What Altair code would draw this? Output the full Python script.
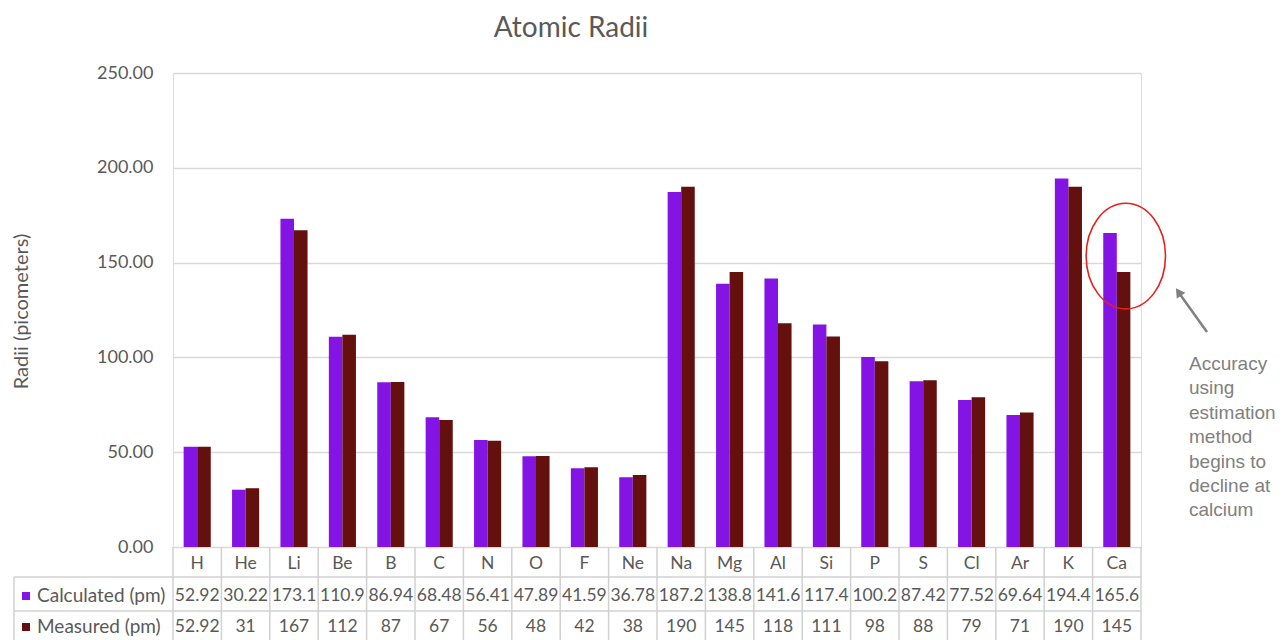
import altair as alt
import pandas as pd

# ---- data ----
elements = ["H", "He", "Li", "Be", "B", "C", "N", "O", "F", "Ne",
            "Na", "Mg", "Al", "Si", "P", "S", "Cl", "Ar", "K", "Ca"]
calculated = [52.92, 30.22, 173.1, 110.9, 86.94, 68.48, 56.41, 47.89, 41.59, 36.78,
              187.2, 138.8, 141.6, 117.4, 100.2, 87.42, 77.52, 69.64, 194.4, 165.6]
measured = [52.92, 31, 167, 112, 87, 67, 56, 48, 42, 38,
            190, 145, 118, 111, 98, 88, 79, 71, 190, 145]
series = ["Calculated (pm)", "Measured (pm)"]
colors = ["#8414E4", "#63100F"]
y_ticks = [0, 50, 100, 150, 200, 250]
annotation_lines = ["Accuracy", "using", "estimation", "method",
                    "begins to", "decline at", "calcium"]
highlight_element = "Ca"

# ---- tables built from the arrays ----
rows = []
for s, vals in zip(series, [calculated, measured]):
    for e, v in zip(elements, vals):
        rows.append({"element": e, "series": s, "value": v, "label": f"{v:g}"})
df = pd.DataFrame(rows)
df_el = pd.DataFrame({"element": elements})
hi = df[df.element == highlight_element]
df_hi = pd.DataFrame({"element": [highlight_element], "value": [hi.value.mean()]})
one = pd.DataFrame({"k": [0]})

# ---- layout (pixels) ----
W, H = 968, 474
STEP = W / len(elements)
GRAY = "#595959"
LINE = "#d0d0d0"
FONT = "Lato"
TFS = 17.5
ROW_HEADER, ROW_CALC, ROW_MEAS = 491, 523, 554
LINE_1, LINE_2, TABLE_BOTTOM = 504, 538, 600
LEFT_EDGE = -159

xenc = alt.X("element:N", sort=elements, axis=None,
             scale=alt.Scale(paddingInner=0.44, paddingOuter=0.22))

bars = alt.Chart(df).mark_bar().encode(
    x=xenc,
    xOffset=alt.XOffset("series:N", sort=series,
                        scale=alt.Scale(paddingInner=0, paddingOuter=0)),
    y=alt.Y("value:Q", scale=alt.Scale(domain=[0, 250], nice=False),
            axis=alt.Axis(values=y_ticks, format=".2f", labelFontSize=18,
                          labelColor=GRAY, labelFont=FONT, labelPadding=20,
                          ticks=False, tickSize=0, domain=False,
                          gridColor="#d9d9d9", gridWidth=1.3,
                          title="Radii (picometers)", titleFontSize=20,
                          titleFont=FONT, titleColor=GRAY, titleFontWeight="normal",
                          titleX=-152, titleY=H / 2 + 1, titleBaseline="middle",
                          titleAlign="center")),
    color=alt.Color("series:N", scale=alt.Scale(domain=series, range=colors),
                    legend=None),
)

header = alt.Chart(df_el).mark_text(fontSize=TFS, font=FONT, color=GRAY).encode(
    x=xenc, y=alt.value(ROW_HEADER), text="element:N")

calc_text = alt.Chart(df).transform_filter(
    alt.datum.series == series[0]).mark_text(fontSize=TFS, font=FONT, color=GRAY).encode(
    x=xenc, y=alt.value(ROW_CALC), text="label:N")

meas_text = alt.Chart(df).transform_filter(
    alt.datum.series == series[1]).mark_text(fontSize=TFS, font=FONT, color=GRAY).encode(
    x=xenc, y=alt.value(ROW_MEAS), text="label:N")

vlines = alt.Chart(df_el).mark_rule(color=LINE, strokeWidth=1.5, xOffset=-STEP / 2).encode(
    x=xenc, y=alt.value(H), y2=alt.value(TABLE_BOTTOM))
vline_right = alt.Chart(one).mark_rule(color=LINE, strokeWidth=1.5).encode(
    x=alt.value(W), y=alt.value(H), y2=alt.value(TABLE_BOTTOM))
vline_left = alt.Chart(one).mark_rule(color=LINE, strokeWidth=1.5).encode(
    x=alt.value(LEFT_EDGE), y=alt.value(LINE_1), y2=alt.value(TABLE_BOTTOM))
hline1 = alt.Chart(one).mark_rule(color=LINE, strokeWidth=1.5).encode(
    x=alt.value(LEFT_EDGE), x2=alt.value(W), y=alt.value(LINE_1))
hline2 = alt.Chart(one).mark_rule(color=LINE, strokeWidth=1.5).encode(
    x=alt.value(LEFT_EDGE), x2=alt.value(W), y=alt.value(LINE_2))

key_calc = alt.Chart(one).mark_square(size=64, color=colors[0], opacity=1).encode(
    x=alt.value(-147), y=alt.value(ROW_CALC))
key_meas = alt.Chart(one).mark_square(size=64, color=colors[1], opacity=1).encode(
    x=alt.value(-147), y=alt.value(ROW_MEAS))
lab_calc = alt.Chart(one).mark_text(text=series[0], align="left", fontSize=19,
                                    font=FONT, color=GRAY).encode(
    x=alt.value(-136), y=alt.value(ROW_CALC))
lab_meas = alt.Chart(one).mark_text(text=series[1], align="left", fontSize=19,
                                    font=FONT, color=GRAY).encode(
    x=alt.value(-136), y=alt.value(ROW_MEAS))

ellipse_path = "M -1 0 A 1 1.33 0 1 0 1 0 A 1 1.33 0 1 0 -1 0 Z"
ellipse = alt.Chart(df_hi).mark_point(shape=ellipse_path, size=6300, filled=False,
                                      stroke="#e8201c", strokeWidth=1.6,
                                      opacity=1, xOffset=9, yOffset=3.5).encode(
    x=xenc, y=alt.Y("value:Q"))

arrow_line = alt.Chart(one).mark_rule(color="#808080", strokeWidth=2.5).encode(
    x=alt.value(1034), y=alt.value(259), x2=alt.value(1006), y2=alt.value(220))
arrow_head = alt.Chart(one).mark_point(shape="triangle-up", filled=True, size=110,
                                       color="#808080", opacity=1, angle=325).encode(
    x=alt.value(1005.5), y=alt.value(219))

note = alt.Chart(one).mark_text(text=annotation_lines, align="left", baseline="top",
                                fontSize=19, font="Liberation Sans", color="#808080",
                                lineHeight=24.4).encode(
    x=alt.value(1016), y=alt.value(282))

chart = alt.layer(
    bars, vlines, vline_right, vline_left, hline1, hline2,
    header, calc_text, meas_text, key_calc, key_meas, lab_calc, lab_meas,
    ellipse, arrow_line, arrow_head, note,
).properties(
    width=W, height=H,
    autosize=alt.AutoSizeParams(type="none"),
    padding={"left": 165, "top": 65, "right": 137, "bottom": 93},
    title=alt.TitleParams("Atomic Radii", fontSize=28, font=FONT, color=GRAY,
                          fontWeight="normal", anchor="middle", dx=-86, offset=21),
).configure_view(stroke=None).configure(background="white")

chart.save("out.html", embed_options={"renderer": "svg", "actions": False})
